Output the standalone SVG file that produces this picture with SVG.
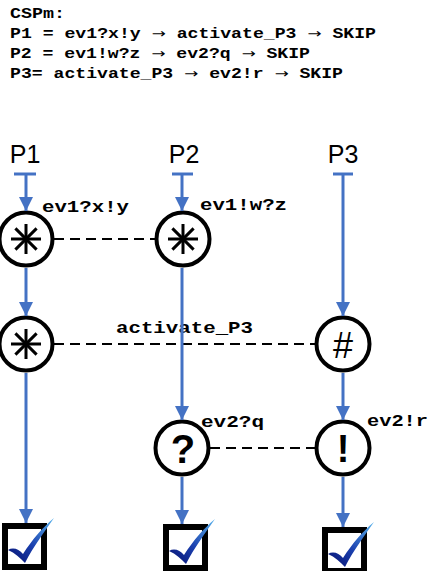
<svg xmlns="http://www.w3.org/2000/svg" width="428" height="571" viewBox="0 0 428 571">
  <style>
    .code { font-family: "Liberation Mono", "DejaVu Sans Mono", monospace; font-weight: bold; font-size: 14px; fill: #000; }
    .ar { font-family: "DejaVu Sans", "Liberation Sans", sans-serif; font-weight: normal; font-size: 13px; }
    .lbl { font-family: "Liberation Mono", "DejaVu Sans Mono", monospace; font-weight: bold; font-size: 16px; fill: #000; }
    .proc { font-family: "Liberation Sans", Arial, sans-serif; font-size: 25px; fill: #000; text-anchor: middle; }
    .node { fill: #fff; stroke: #000; stroke-width: 4; }
    .sym { font-family: "Liberation Sans", Arial, sans-serif; fill: #000; text-anchor: middle; }
    .star { stroke: #000; stroke-width: 3; stroke-linecap: butt; }
    .life { stroke: #4472C4; stroke-width: 3; fill: none; }
    .arrow { stroke: #4472C4; stroke-width: 3; fill: none; marker-end: url(#head); }
    .sync { stroke: #000; stroke-width: 2; stroke-dasharray: 10 6; fill: none; }
    .box { fill: #fff; stroke: #000; stroke-width: 6; }
  </style>
  <defs>
    <marker id="head" markerUnits="userSpaceOnUse" markerWidth="14" markerHeight="14" viewBox="0 0 14 14" refX="14" refY="7" orient="auto">
      <path d="M0 0 L14 7 L0 14 Z" fill="#4472C4"/>
    </marker>
    <linearGradient id="tick" x1="0" y1="1" x2="1" y2="0">
      <stop offset="0" stop-color="#06106e"/>
      <stop offset="0.45" stop-color="#1a3fae"/>
      <stop offset="1" stop-color="#5ab4ee"/>
    </linearGradient>
    <!-- checkbox: outer top-left at (0,0) -->
    <g id="done">
      <rect class="box" x="3" y="3" width="39" height="41"/>
      <path d="M6 27 C11 24 17 26 21 31 C30 17 40 5 52 -5 C43 8 31 24 23 40 C18 35 13 30 6 27 Z" fill="url(#tick)"/>
    </g>
    <!-- eight-spoke star -->
    <g id="star">
      <line class="star" x1="-15" y1="0" x2="15" y2="0"/>
      <line class="star" x1="0" y1="-15" x2="0" y2="15"/>
      <line class="star" x1="-10.6" y1="-10.6" x2="10.6" y2="10.6"/>
      <line class="star" x1="-10.6" y1="10.6" x2="10.6" y2="-10.6"/>
    </g>
  </defs>

  <!-- CSPm source -->
  <g id="source">
    <text class="code" x="10" y="18" textLength="55" lengthAdjust="spacingAndGlyphs">CSPm:</text>
    <text class="code" x="10" y="38" textLength="366" lengthAdjust="spacingAndGlyphs">P1 = ev1?x!y <tspan class="ar">→</tspan> activate_P3 <tspan class="ar">→</tspan> SKIP</text>
    <text class="code" x="10" y="58" textLength="300" lengthAdjust="spacingAndGlyphs">P2 = ev1!w?z <tspan class="ar">→</tspan> ev2?q <tspan class="ar">→</tspan> SKIP</text>
    <text class="code" x="10" y="78" textLength="333" lengthAdjust="spacingAndGlyphs">P3= activate_P3 <tspan class="ar">→</tspan> ev2!r <tspan class="ar">→</tspan> SKIP</text>
  </g>

  <!-- process headers -->
  <g id="P1"><text class="proc" x="25" y="163">P1</text></g>
  <g id="P2"><text class="proc" x="184" y="163">P2</text></g>
  <g id="P3"><text class="proc" x="343" y="163">P3</text></g>

  <!-- synchronisation links -->
  <g id="sync-links">
    <line class="sync" x1="54" y1="239" x2="156" y2="239"/>
    <line class="sync" x1="54" y1="344" x2="316" y2="344"/>
    <line class="sync" x1="210" y1="448" x2="316" y2="448"/>
  </g>

  <!-- event nodes -->
  <g id="p1-ev1">
    <circle class="node" cx="26" cy="239" r="26.5"/>
    <use href="#star" x="26" y="239"/>
    <text class="lbl" x="42" y="212" textLength="87" lengthAdjust="spacingAndGlyphs">ev1?x!y</text>
  </g>
  <g id="p2-ev1">
    <circle class="node" cx="183" cy="239" r="26.5"/>
    <use href="#star" x="183" y="239"/>
    <text class="lbl" x="200" y="210" textLength="87" lengthAdjust="spacingAndGlyphs">ev1!w?z</text>
  </g>
  <g id="p1-activate">
    <circle class="node" cx="26" cy="344" r="26.5"/>
    <use href="#star" x="26" y="344"/>
    <text class="lbl" x="116" y="333" textLength="137" lengthAdjust="spacingAndGlyphs">activate_P3</text>
  </g>
  <g id="p3-activate">
    <circle class="node" cx="343" cy="344" r="26.5"/>
    <text class="sym" x="343" y="358" font-size="36">#</text>
  </g>
  <g id="p2-ev2">
    <circle class="node" cx="182" cy="448" r="26.5"/>
    <text class="sym" x="183" y="463" font-size="40" font-weight="bold">?</text>
    <text class="lbl" x="201" y="427" textLength="63" lengthAdjust="spacingAndGlyphs">ev2?q</text>
  </g>
  <g id="p3-ev2">
    <circle class="node" cx="343" cy="448" r="26.5"/>
    <text class="sym" x="343" y="462" font-size="38" font-weight="bold">!</text>
    <text class="lbl" x="367" y="426" textLength="61" lengthAdjust="spacingAndGlyphs">ev2!r</text>
  </g>

  <!-- SKIP terminals -->
  <g id="p1-skip"><use href="#done" x="2" y="523"/></g>
  <g id="p2-skip"><use href="#done" x="163" y="524"/></g>
  <g id="p3-skip"><use href="#done" x="322" y="527"/></g>

  <!-- process flow -->
  <g id="flow">
    <line class="life" x1="14" y1="174" x2="36" y2="174"/>
    <line class="life" x1="172" y1="174" x2="193" y2="174"/>
    <line class="life" x1="333" y1="174" x2="353" y2="174"/>

    <line class="arrow" x1="26" y1="174" x2="26" y2="211"/>
    <line class="arrow" x1="26" y1="268" x2="26" y2="316"/>
    <line class="arrow" x1="26" y1="373" x2="26" y2="523"/>

    <line class="arrow" x1="182" y1="174" x2="182" y2="211"/>
    <line class="arrow" x1="182" y1="268" x2="182" y2="420"/>
    <line class="arrow" x1="182" y1="477" x2="182" y2="524"/>

    <line class="arrow" x1="343" y1="174" x2="343" y2="316"/>
    <line class="arrow" x1="343" y1="373" x2="343" y2="420"/>
    <line class="arrow" x1="343" y1="477" x2="343" y2="527"/>
  </g>
</svg>
